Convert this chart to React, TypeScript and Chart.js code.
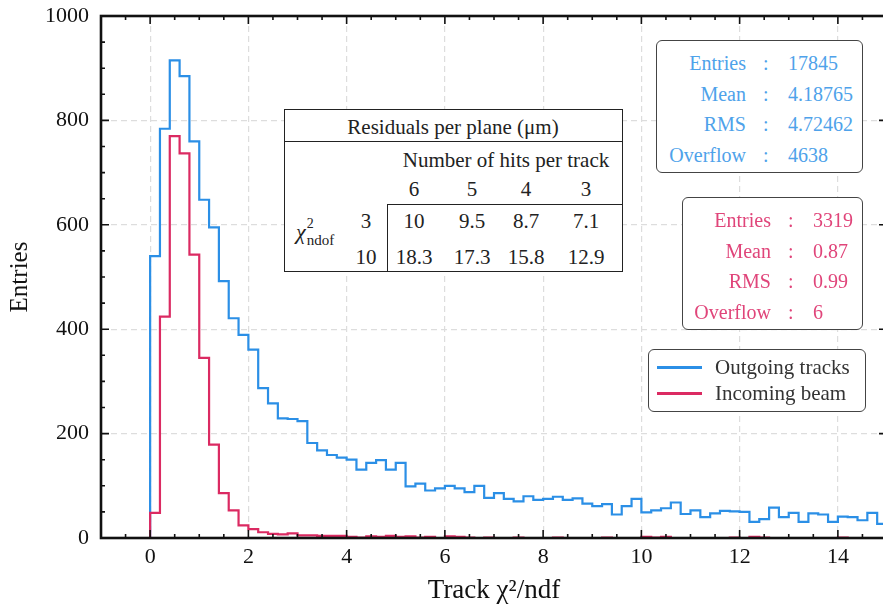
import React, { useEffect, useRef } from "react";
import { Chart, registerables } from "chart.js";

Chart.register(...registerables);

// Bin lower edges (bin width 0.2), last entry is the upper edge of the last bin
const BIN_EDGES = [
  0, 0.2, 0.4, 0.6, 0.8, 1, 1.2, 1.4, 1.6, 1.8, 2, 2.2, 2.4, 2.6, 2.8, 3, 3.2, 3.4, 3.6, 3.8,
  4, 4.2, 4.4, 4.6, 4.8, 5, 5.2, 5.4, 5.6, 5.8, 6, 6.2, 6.4, 6.6, 6.8, 7, 7.2, 7.4, 7.6, 7.8,
  8, 8.2, 8.4, 8.6, 8.8, 9, 9.2, 9.4, 9.6, 9.8, 10, 10.2, 10.4, 10.6, 10.8, 11, 11.2, 11.4, 11.6, 11.8,
  12, 12.2, 12.4, 12.6, 12.8, 13, 13.2, 13.4, 13.6, 13.8, 14, 14.2, 14.4, 14.6, 14.8, 15,
];

const OUTGOING = [
  540, 784, 915, 885, 760, 648, 595, 492, 421, 389,
  361, 287, 258, 229, 228, 224, 182, 168, 159, 154,
  150, 131, 144, 149, 131, 144, 99, 104, 91, 95,
  100, 95, 88, 100, 77, 86, 75, 70, 80, 73,
  75, 79, 73, 76, 66, 61, 65, 45, 61, 75,
  49, 53, 57, 68, 46, 53, 40, 47, 52, 51,
  50, 31, 36, 58, 40, 48, 31, 47, 45, 31,
  41, 40, 34, 48, 27,
];

const INCOMING = [
  48, 424, 770, 737, 543, 345, 179, 86, 53, 24,
  17, 11, 8, 7, 9, 5, 5, 4, 4, 4,
  2, 1, 3, 2, 4, 2, 3, 1, 2, 0,
  3, 2, 1, 0, 1, 0, 0, 1, 0, 0,
  0, 1, 0, 0, 0, 0, 1, 0, 0, 0,
  2, 1, 2, 0, 0, 0, 0, 0, 0, 1,
  0, 2, 1, 0, 0, 0, 0, 0, 0, 0,
  1, 0, 0, 0, 0,
];

const X_TICK_VALUES = [0, 2, 4, 6, 8, 10, 12, 14];
const Y_TICK_VALUES = [0, 200, 400, 600, 800, 1000];

const SERIES_LABELS = ["Outgoing tracks", "Incoming beam"];

const OUT_STATS_LABELS = ["Entries", "Mean", "RMS", "Overflow"];
const OUT_STATS_VALUES = ["17845", "4.18765", "4.72462", "4638"];
const IN_STATS_LABELS = ["Entries", "Mean", "RMS", "Overflow"];
const IN_STATS_VALUES = ["3319", "0.87", "0.99", "6"];

const TABLE_TITLE = "Residuals per plane (μm)";
const TABLE_COL_TITLE = "Number of hits per track";
const TABLE_COLS = ["6", "5", "4", "3"];
const TABLE_ROWS = ["3", "10"];
const TABLE_ROW_3 = ["10", "9.5", "8.7", "7.1"];
const TABLE_ROW_10 = ["18.3", "17.3", "15.8", "12.9"];

const BLUE = "#2b8fe6";
const RED = "#db2a62";
const BLUE_TEXT = "#4ea2ea";
const RED_TEXT = "#e0457a";
const FONT = "'Liberation Serif', 'DejaVu Serif', serif";

function toSteps(values: number[]) {
  const pts: { x: number; y: number }[] = [{ x: BIN_EDGES[0], y: 0 }];
  values.forEach((v, i) => pts.push({ x: BIN_EDGES[i], y: v }));
  pts.push({ x: BIN_EDGES[values.length], y: values[values.length - 1] });
  return pts;
}

const framePlugin = {
  id: "frameTicks",
  afterDraw(chart: any) {
    const { ctx, chartArea: a, scales } = chart;
    const xs = scales.x;
    const ys = scales.y;
    ctx.save();
    ctx.strokeStyle = "#111";
    ctx.lineWidth = 1.6;
    ctx.beginPath();
    for (let v = -1; v <= 15.001; v += 0.5) {
      const px = xs.getPixelForValue(v);
      const major = Math.abs(v / 2 - Math.round(v / 2)) < 1e-6;
      const len = major ? 8 : 4;
      ctx.moveTo(px, a.bottom);
      ctx.lineTo(px, a.bottom - len);
      ctx.moveTo(px, a.top);
      ctx.lineTo(px, a.top + len);
    }
    for (let v = 0; v <= 1000; v += 50) {
      const py = ys.getPixelForValue(v);
      const major = v % 200 === 0;
      const len = major ? 8 : 4;
      ctx.moveTo(a.left, py);
      ctx.lineTo(a.left + len, py);
      ctx.moveTo(a.right, py);
      ctx.lineTo(a.right - len, py);
    }
    ctx.stroke();
    ctx.lineWidth = 2.6;
    ctx.strokeRect(a.left, a.top, a.right - a.left, a.bottom - a.top);
    ctx.restore();
  },
};

function StatsBox(props: {
  left: number; top: number; width: number; labels: string[]; values: string[];
  color: string; labelRight: number; colonX: number; valueX: number;
}) {
  const { left, top, width, labels, values, color, labelRight, colonX, valueX } = props;
  return (
    <div style={{
      position: "absolute", left, top, width, height: 133, boxSizing: "border-box",
      border: "1.5px solid #444", borderRadius: 6, background: "#fff",
      fontFamily: FONT, fontSize: 20, color,
    }}>
      {labels.map((lab, i) => (
        <div key={lab} style={{ position: "absolute", left: 0, top: 7 + i * 30.5, width: "100%", height: 30, lineHeight: "30px" }}>
          <span style={{ position: "absolute", right: width - labelRight, whiteSpace: "nowrap" }}>{lab}</span>
          <span style={{ position: "absolute", left: colonX - 3 }}>:</span>
          <span style={{ position: "absolute", left: valueX, whiteSpace: "nowrap" }}>{values[i]}</span>
        </div>
      ))}
    </div>
  );
}

function Legend() {
  return (
    <div style={{
      position: "absolute", left: 648, top: 349, width: 218, height: 63, boxSizing: "border-box",
      border: "1.5px solid #444", borderRadius: 6, background: "#fff",
      fontFamily: FONT, fontSize: 21, color: "#333",
    }}>
      {SERIES_LABELS.map((lab, i) => (
        <div key={lab} style={{ position: "absolute", left: 0, top: 4 + i * 26, height: 26, width: "100%", lineHeight: "26px" }}>
          <div style={{ position: "absolute", left: 8, top: 12, width: 45, height: 2.5, background: i === 0 ? BLUE : RED }} />
          <span style={{ position: "absolute", left: 66, whiteSpace: "nowrap" }}>{lab}</span>
        </div>
      ))}
    </div>
  );
}

function ResidualTable() {
  const colX = [129, 187, 241, 301];
  const cell = (text: string, x: number, y: number, key: string) => (
    <span key={key} style={{ position: "absolute", left: x, top: y, transform: "translate(-50%, -50%)", whiteSpace: "nowrap" }}>{text}</span>
  );
  return (
    <div style={{
      position: "absolute", left: 284, top: 109, width: 339, height: 163, boxSizing: "border-box",
      border: "1.8px solid #222", background: "#fff", fontFamily: FONT, fontSize: 21, color: "#222",
    }}>
      {cell(TABLE_TITLE, 168, 17, "title")}
      <div style={{ position: "absolute", left: 0, top: 31, width: "100%", height: 0, borderTop: "1.8px solid #222" }} />
      {cell(TABLE_COL_TITLE, 221, 50, "coltitle")}
      {TABLE_COLS.map((c, i) => cell(c, colX[i], 79, "c" + i))}
      <div style={{ position: "absolute", left: 102, top: 94, right: 0, bottom: 0, borderTop: "1.8px solid #222", borderLeft: "1.8px solid #222" }} />
      {cell(TABLE_ROWS[0], 81, 111, "r0")}
      {cell(TABLE_ROWS[1], 81, 147, "r1")}
      {TABLE_ROW_3.map((v, i) => cell(v, colX[i], 111, "a" + i))}
      {TABLE_ROW_10.map((v, i) => cell(v, colX[i], 147, "b" + i))}
      <span style={{ position: "absolute", left: 11, top: 111, whiteSpace: "nowrap", lineHeight: 1 }}>
        <span style={{ fontStyle: "italic", fontSize: 22 }}>χ</span>
        <span style={{ position: "relative", display: "inline-block", width: 34, height: 20, verticalAlign: "top" }}>
          <span style={{ position: "absolute", left: 1, top: -4, fontSize: 14 }}>2</span>
          <span style={{ position: "absolute", left: 1, top: 12, fontSize: 15 }}>ndof</span>
        </span>
      </span>
    </div>
  );
}

export default function App() {
  const canvasRef = useRef<HTMLCanvasElement | null>(null);

  useEffect(() => {
    const canvas = canvasRef.current;
    if (!canvas) return;
    const chart = new Chart(canvas, {
      type: "line",
      data: {
        datasets: [
          {
            label: SERIES_LABELS[0],
            data: toSteps(OUTGOING),
            borderColor: BLUE,
            borderWidth: 2.2,
            stepped: "before",
            pointRadius: 0,
            fill: false,
            order: 2,
          },
          {
            label: SERIES_LABELS[1],
            data: toSteps(INCOMING),
            borderColor: RED,
            borderWidth: 2.2,
            stepped: "before",
            pointRadius: 0,
            fill: false,
            order: 1,
          },
        ],
      },
      options: {
        animation: false,
        responsive: false,
        parsing: false as any,
        layout: { padding: { top: 16, right: 3, bottom: 0, left: 0 } },
        plugins: { legend: { display: false }, tooltip: { enabled: false } },
        scales: {
          x: {
            type: "linear",
            min: -1,
            max: 15,
            afterBuildTicks: (s: any) => { s.ticks = X_TICK_VALUES.map((v) => ({ value: v })); },
            afterFit: (s: any) => { s.height = 70; s.paddingLeft = 0; s.paddingRight = 0; },
            grid: { color: "#dddddd", lineWidth: 1.2, drawTicks: false },
            border: { display: false, dash: [6, 4] },
            ticks: { color: "#111", font: { family: FONT, size: 22 }, padding: 6, maxRotation: 0, autoSkip: false,
              callback: (v: any) => String(v) },
            title: { display: true, text: "Track χ²/ndf", color: "#111", font: { family: FONT, size: 27 }, padding: { top: 0, bottom: 1 } },
          },
          y: {
            type: "linear",
            min: 0,
            max: 1000,
            afterBuildTicks: (s: any) => { s.ticks = Y_TICK_VALUES.map((v) => ({ value: v })); },
            afterFit: (s: any) => { s.width = 101; s.paddingTop = 0; s.paddingBottom = 0; },
            grid: { color: "#dddddd", lineWidth: 1.2, drawTicks: false },
            border: { display: false, dash: [6, 4] },
            ticks: { color: "#111", font: { family: FONT, size: 22 }, padding: 12, callback: (v: any) => String(v) },
            title: { display: true, text: "Entries", color: "#111", font: { family: FONT, size: 25 }, padding: { top: 5, bottom: 0 } },
          },
        },
      },
      plugins: [framePlugin],
    });
    return () => chart.destroy();
  }, []);

  return (
    <div style={{ position: "fixed", left: 0, top: 0, width: 883, height: 608, overflow: "hidden", background: "#fff" }}>
      <canvas ref={canvasRef} width={890} height={608} style={{ position: "absolute", left: 0, top: 0 }} />
      <ResidualTable />
      <StatsBox left={656} top={40} width={207} labels={OUT_STATS_LABELS} values={OUT_STATS_VALUES}
        color={BLUE_TEXT} labelRight={91} colonX={109} valueX={131} />
      <StatsBox left={682} top={197} width={181} labels={IN_STATS_LABELS} values={IN_STATS_VALUES}
        color={RED_TEXT} labelRight={90} colonX={108} valueX={130} />
      <Legend />
    </div>
  );
}
